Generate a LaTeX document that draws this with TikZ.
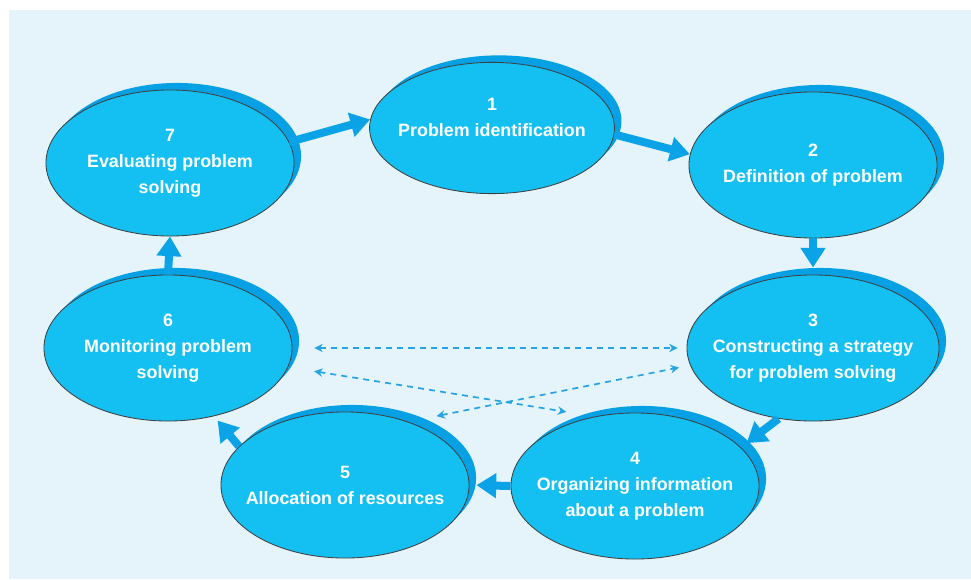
\documentclass[tikz,border=0pt]{standalone}
\usepackage{fontspec}
\setmainfont{Liberation Sans}
\usetikzlibrary{shapes.geometric, arrows.meta, shadows, positioning}

\definecolor{stagefill}{RGB}{20,192,242}
\definecolor{stageshade}{RGB}{6,160,228}
\definecolor{flowblue}{RGB}{10,163,232}
\definecolor{linkblue}{RGB}{36,164,228}
\definecolor{canvasbg}{RGB}{229,244,250}

\tikzset{
  stage/.style={ellipse, draw=black!75, line width=0.6pt, fill=stagefill,
    minimum width=6.2cm, minimum height=3.65cm, inner xsep=-40pt, inner ysep=-20pt, align=center,
    text=white, font=\bfseries\fontsize{12.7}{18.5}\selectfont,
    drop shadow={shadow xshift=5pt, shadow yshift=5pt, fill=stageshade, opacity=1}},
  flow/.style={draw=flowblue, line width=5.7pt, -{Triangle[width=17pt,length=14pt]}},
  link/.style={draw=linkblue, line width=1.2pt, dash pattern=on 4.3pt off 3.6pt,
    {Stealth[length=6pt,width=6pt]}-{Stealth[length=6pt,width=6pt]}}
}

\begin{document}
\begin{tikzpicture}[x=0.025cm, y=-0.025cm]
    \useasboundingbox (0,0) rectangle (971,579);
    \fill[canvasbg] (9,10) rectangle (971,579);

    % the seven stages of the cycle
    \node[stage, minimum width=6.12cm, minimum height=3.28cm, text depth=15pt] (n1) at (492,128) {1\\Problem identification};
    \node[stage] (n2) at (813,165) {2\\Definition of problem};
    \node[stage, minimum width=6.3cm] (n3) at (813,348) {3\\Constructing a strategy\\for problem solving};
    \node[stage] (n4) at (635,486) {4\\Organizing information\\about a problem};
    \node[stage] (n5) at (345,485) {5\\Allocation of resources};
    \node[stage] (n6) at (168,348) {6\\Monitoring problem\\solving};
    \node[stage] (n7) at (170,163) {7\\Evaluating problem\\solving};

    % main cycle
    \draw[flow] (n7.10) -- (n1.176);
    \draw[flow] (n1.-3) -- (n2.175);
    \draw[flow, shorten >=5pt] (n2.south) -- (n3.north);
    \draw[flow, shorten >=5pt] (n3.244) -- (n4.20);
    \draw[flow, shorten >=5pt] (n4.west) -- (n5.east);
    \draw[flow, shorten >=4pt] (n5.160) -- (n6.-56);
    \draw[flow] (n6.north) -- (n7.south);

    % feedback links
    \draw[link, shorten <=15.6pt, shorten >=6.4pt] (n6.east) -- (n3.west);
    \draw[link, shorten <=18.7pt, shorten >=20.6pt] (n6.-9) -- (n4.120);
    \draw[link, shorten <=20.5pt, shorten >=8pt] (n5.45) -- (n3.188);
\end{tikzpicture}
\end{document}
